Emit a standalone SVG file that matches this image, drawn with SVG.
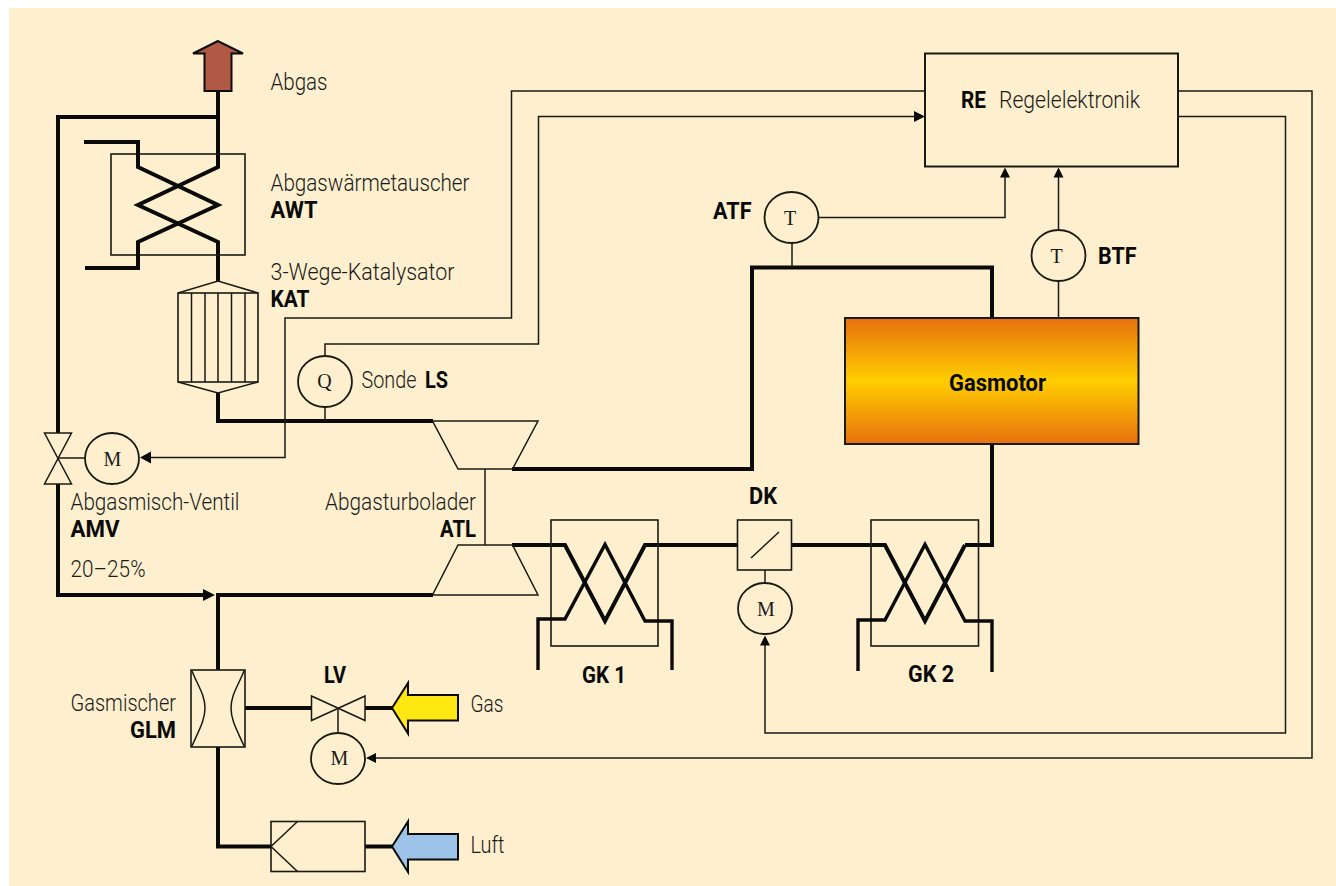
<svg xmlns="http://www.w3.org/2000/svg" width="1336" height="886" viewBox="0 0 1336 886">
<style>
.pipe{fill:none;stroke:#0a0a0a;stroke-width:4;stroke-linejoin:miter}
.pipe2{fill:none;stroke:#0a0a0a;stroke-width:3.4;stroke-linejoin:miter}
.sig{fill:none;stroke:#1a1a14;stroke-width:1.5}
.sym{fill:none;stroke:#1a1a14;stroke-width:1.5}
.box{fill:none;stroke:#1a1a14;stroke-width:1.6}
.head{fill:#0a0a0a}
.circ{fill:none;stroke:#1a1a14;stroke-width:1.8}
text{fill:#1a1a1a}
.l{font-family:"Roboto","Liberation Sans",sans-serif;font-weight:300;font-size:23.500px}
.b{font-family:"Roboto","Liberation Sans",sans-serif;font-weight:700;font-size:23.500px;fill:#0a0a0a}
.s{font-family:"Liberation Serif",serif;font-size:20px;text-anchor:middle}
</style>
<defs>
<linearGradient id="motorGrad" x1="0" y1="0" x2="0" y2="1">
<stop offset="0" stop-color="#E8700E"/>
<stop offset="0.5" stop-color="#FFCE00"/>
<stop offset="1" stop-color="#E8700E"/>
</linearGradient>
</defs>
<rect x="9" y="8" width="1327" height="878" fill="#FEF0CE"/>
<g id="connectors">
<path class="pipe" d="M218 91V167L138 205L218 242V282"/>
<path class="pipe" d="M218 117H58V433"/>
<path class="pipe" d="M58 484V595H204"/>
<path class="pipe" d="M218 393V421H433"/>
<path class="pipe" d="M512 469H752V267.500H992V318"/>
<path class="pipe" d="M992 444V545H965"/>
<path class="pipe" d="M512 545H565L605 621L645 545H738"/>
<path class="pipe" d="M791 545H885L925 621L965 545"/>
<path class="pipe" d="M433 595H218V670"/>
<path class="pipe" d="M218 747V846.500H271"/>
<path class="pipe" d="M245 708H311"/>
<path class="pipe" d="M365 708H392"/>
<path class="pipe" d="M365 846.500H392"/>
<path class="sig" d="M925 91H511.500V318H285V457.500H150"/>
<path class="sig" d="M325 356V344H538.500V116.500H914"/>
<path class="sig" d="M1178 116.500H1285.500V733H765V645"/>
<path class="sig" d="M1178 91H1312V758H376"/>
<path class="sig" d="M818 217.500H1005V177"/>
<path class="sig" d="M1058.500 230V177"/>
<path class="sig" d="M1058.500 281V318"/>
<path class="sig" d="M792 243V267"/>
<path class="sig" d="M325 407V421"/>
<path class="sig" d="M485 469V545"/>
<path class="sig" d="M765 570V583"/>
<path class="sig" d="M58 458H85"/>
<path class="sig" d="M338 708V733"/>
<path class="head" d="M215 595L203 589V601Z"/>
<path class="head" d="M140 457.500L151 451.500V463.500Z"/>
<path class="head" d="M925 116.500L914 111V122Z"/>
<path class="head" d="M1005 167.500L1000 177.500H1010Z"/>
<path class="head" d="M1058.500 167.500L1053.500 177.500H1063.500Z"/>
<path class="head" d="M765 635.500L760 645.500H770Z"/>
<path class="head" d="M366 758L376 753V763Z"/>
</g>
<g id="abgas">
<path d="M218 41L193 53.500H204.500V91H231.500V53.500H243Z" fill="#B05A45" stroke="#0a0a0a" stroke-width="2"/>
<text class="l" x="270.500" y="90" textLength="57" lengthAdjust="spacingAndGlyphs">Abgas</text>
</g>
<g id="AWT">
<rect class="box" x="111" y="154" width="134" height="101"/>
<path class="pipe" d="M84 142H138V167L218 205L138 242V268H85"/>
<text class="l" x="270.500" y="191" textLength="199" lengthAdjust="spacingAndGlyphs">Abgaswärmetauscher</text>
<text class="b" x="270.500" y="218" textLength="47" lengthAdjust="spacingAndGlyphs">AWT</text>
</g>
<g id="KAT">
<rect class="box" x="178" y="293" width="80" height="89"/>
<path class="sym" d="M178 293L218 281L258 293M178 382L218 393L258 382M191.500 293V382M205 293V382M218 293V382M231.500 293V382M245 293V382"/>
<text class="l" x="270.500" y="280" textLength="184" lengthAdjust="spacingAndGlyphs">3-Wege-Katalysator</text>
<text class="b" x="270.500" y="306.500" textLength="39" lengthAdjust="spacingAndGlyphs">KAT</text>
</g>
<g id="LS">
<ellipse class="circ" cx="325" cy="381.500" rx="27" ry="25.500"/>
<text class="s" x="324.500" y="388">Q</text>
<text class="l" x="361.500" y="387.500" textLength="55" lengthAdjust="spacingAndGlyphs">Sonde</text>
<text class="b" x="425" y="387.500" textLength="23" lengthAdjust="spacingAndGlyphs">LS</text>
</g>
<g id="AMV">
<path class="sym" d="M44.500 433H71.500L44.500 484H71.500Z"/>
<ellipse class="circ" cx="112" cy="458.500" rx="27" ry="25.500"/>
<text class="s" x="112.500" y="466">M</text>
<text class="l" x="70.500" y="510" textLength="169" lengthAdjust="spacingAndGlyphs">Abgasmisch-Ventil</text>
<text class="b" x="70.500" y="536.500" textLength="49" lengthAdjust="spacingAndGlyphs">AMV</text>
<text class="l" x="70.500" y="576.500" textLength="75" lengthAdjust="spacingAndGlyphs">20–25%</text>
</g>
<g id="ATL">
<path class="sym" d="M432.500 421H538L512.500 469H458Z"/>
<path class="sym" d="M458 545H512.500L538 595H432.500Z"/>
<text class="l" x="325" y="510" textLength="151" lengthAdjust="spacingAndGlyphs">Abgasturbolader</text>
<text class="b" x="440" y="536.500" textLength="36" lengthAdjust="spacingAndGlyphs">ATL</text>
</g>
<g id="GK1">
<rect class="box" x="551" y="520" width="107" height="126"/>
<path class="pipe2" d="M538 670V619H565L605 544.500L645 621H672V670"/>
<text class="b" x="582" y="682.500" textLength="44" lengthAdjust="spacingAndGlyphs">GK 1</text>
</g>
<g id="DK">
<rect class="box" x="737.500" y="520" width="54" height="50"/>
<path class="sym" d="M751 558L779 532"/>
<ellipse class="circ" cx="765" cy="608.500" rx="27" ry="25.500"/>
<text class="s" x="766" y="616">M</text>
<text class="b" x="749" y="504" textLength="28" lengthAdjust="spacingAndGlyphs">DK</text>
</g>
<g id="GK2">
<rect class="box" x="871" y="520" width="107.500" height="126"/>
<path class="pipe2" d="M965 545H992"/>
<path class="pipe2" d="M858 671V620H885L925 544.500L965 621H992V672"/>
<text class="b" x="908" y="682" textLength="46" lengthAdjust="spacingAndGlyphs">GK 2</text>
</g>
<g id="Gasmotor">
<rect x="845" y="318" width="293.500" height="126" fill="url(#motorGrad)" stroke="#1a1a14" stroke-width="2"/>
<text class="b" x="949" y="391" textLength="97" lengthAdjust="spacingAndGlyphs">Gasmotor</text>
</g>
<g id="ATF">
<ellipse class="circ" cx="791.500" cy="217.500" rx="27" ry="25.500"/>
<text class="s" x="790" y="225">T</text>
<text class="b" x="713" y="219" textLength="38.500" lengthAdjust="spacingAndGlyphs">ATF</text>
</g>
<g id="BTF">
<ellipse class="circ" cx="1058.500" cy="255.500" rx="27" ry="25.500"/>
<text class="s" x="1056.500" y="262.500">T</text>
<text class="b" x="1098" y="264" textLength="38.500" lengthAdjust="spacingAndGlyphs">BTF</text>
</g>
<g id="RE">
<rect x="925" y="53.500" width="253" height="113" fill="none" stroke="#1a1a14" stroke-width="2"/>
<text class="b" x="961" y="107.500" textLength="25" lengthAdjust="spacingAndGlyphs">RE</text>
<text class="l" x="999" y="107.500" textLength="141" lengthAdjust="spacingAndGlyphs">Regelelektronik</text>
</g>
<g id="GLM">
<rect class="box" x="191" y="670" width="54" height="77"/>
<path class="sym" d="M192 671C198 686 205 695 205 708C205 721 198 732 192 746M244 671C238 686 231 695 231 708C231 721 238 732 244 746"/>
<text class="l" x="70.500" y="710.500" textLength="105.500" lengthAdjust="spacingAndGlyphs">Gasmischer</text>
<text class="b" x="130" y="737.500" textLength="46" lengthAdjust="spacingAndGlyphs">GLM</text>
</g>
<g id="LV">
<path class="sym" d="M311.500 696V720.500L365 696V720.500Z"/>
<ellipse class="circ" cx="338" cy="758.500" rx="27" ry="25.500"/>
<text class="s" x="339.500" y="765">M</text>
<text class="b" x="324" y="682.500" textLength="22" lengthAdjust="spacingAndGlyphs">LV</text>
</g>
<g id="Gas">
<path d="M392 708L408 683V695H458V720.500H408V733.500Z" fill="#FFE812" stroke="#0a0a0a" stroke-width="2"/>
<text class="l" x="470.500" y="712" textLength="33" lengthAdjust="spacingAndGlyphs">Gas</text>
</g>
<g id="Filter">
<rect class="box" x="271" y="821.500" width="94" height="50"/>
<path class="sym" d="M297.500 821.500L271 846.500L297.500 871.500"/>
</g>
<g id="Luft">
<path d="M392 846.500L408 821.500V834H458V859.500H408V872Z" fill="#9DC4E8" stroke="#0a0a0a" stroke-width="2"/>
<text class="l" x="470.500" y="852.500" textLength="34" lengthAdjust="spacingAndGlyphs">Luft</text>
</g>
</svg>
